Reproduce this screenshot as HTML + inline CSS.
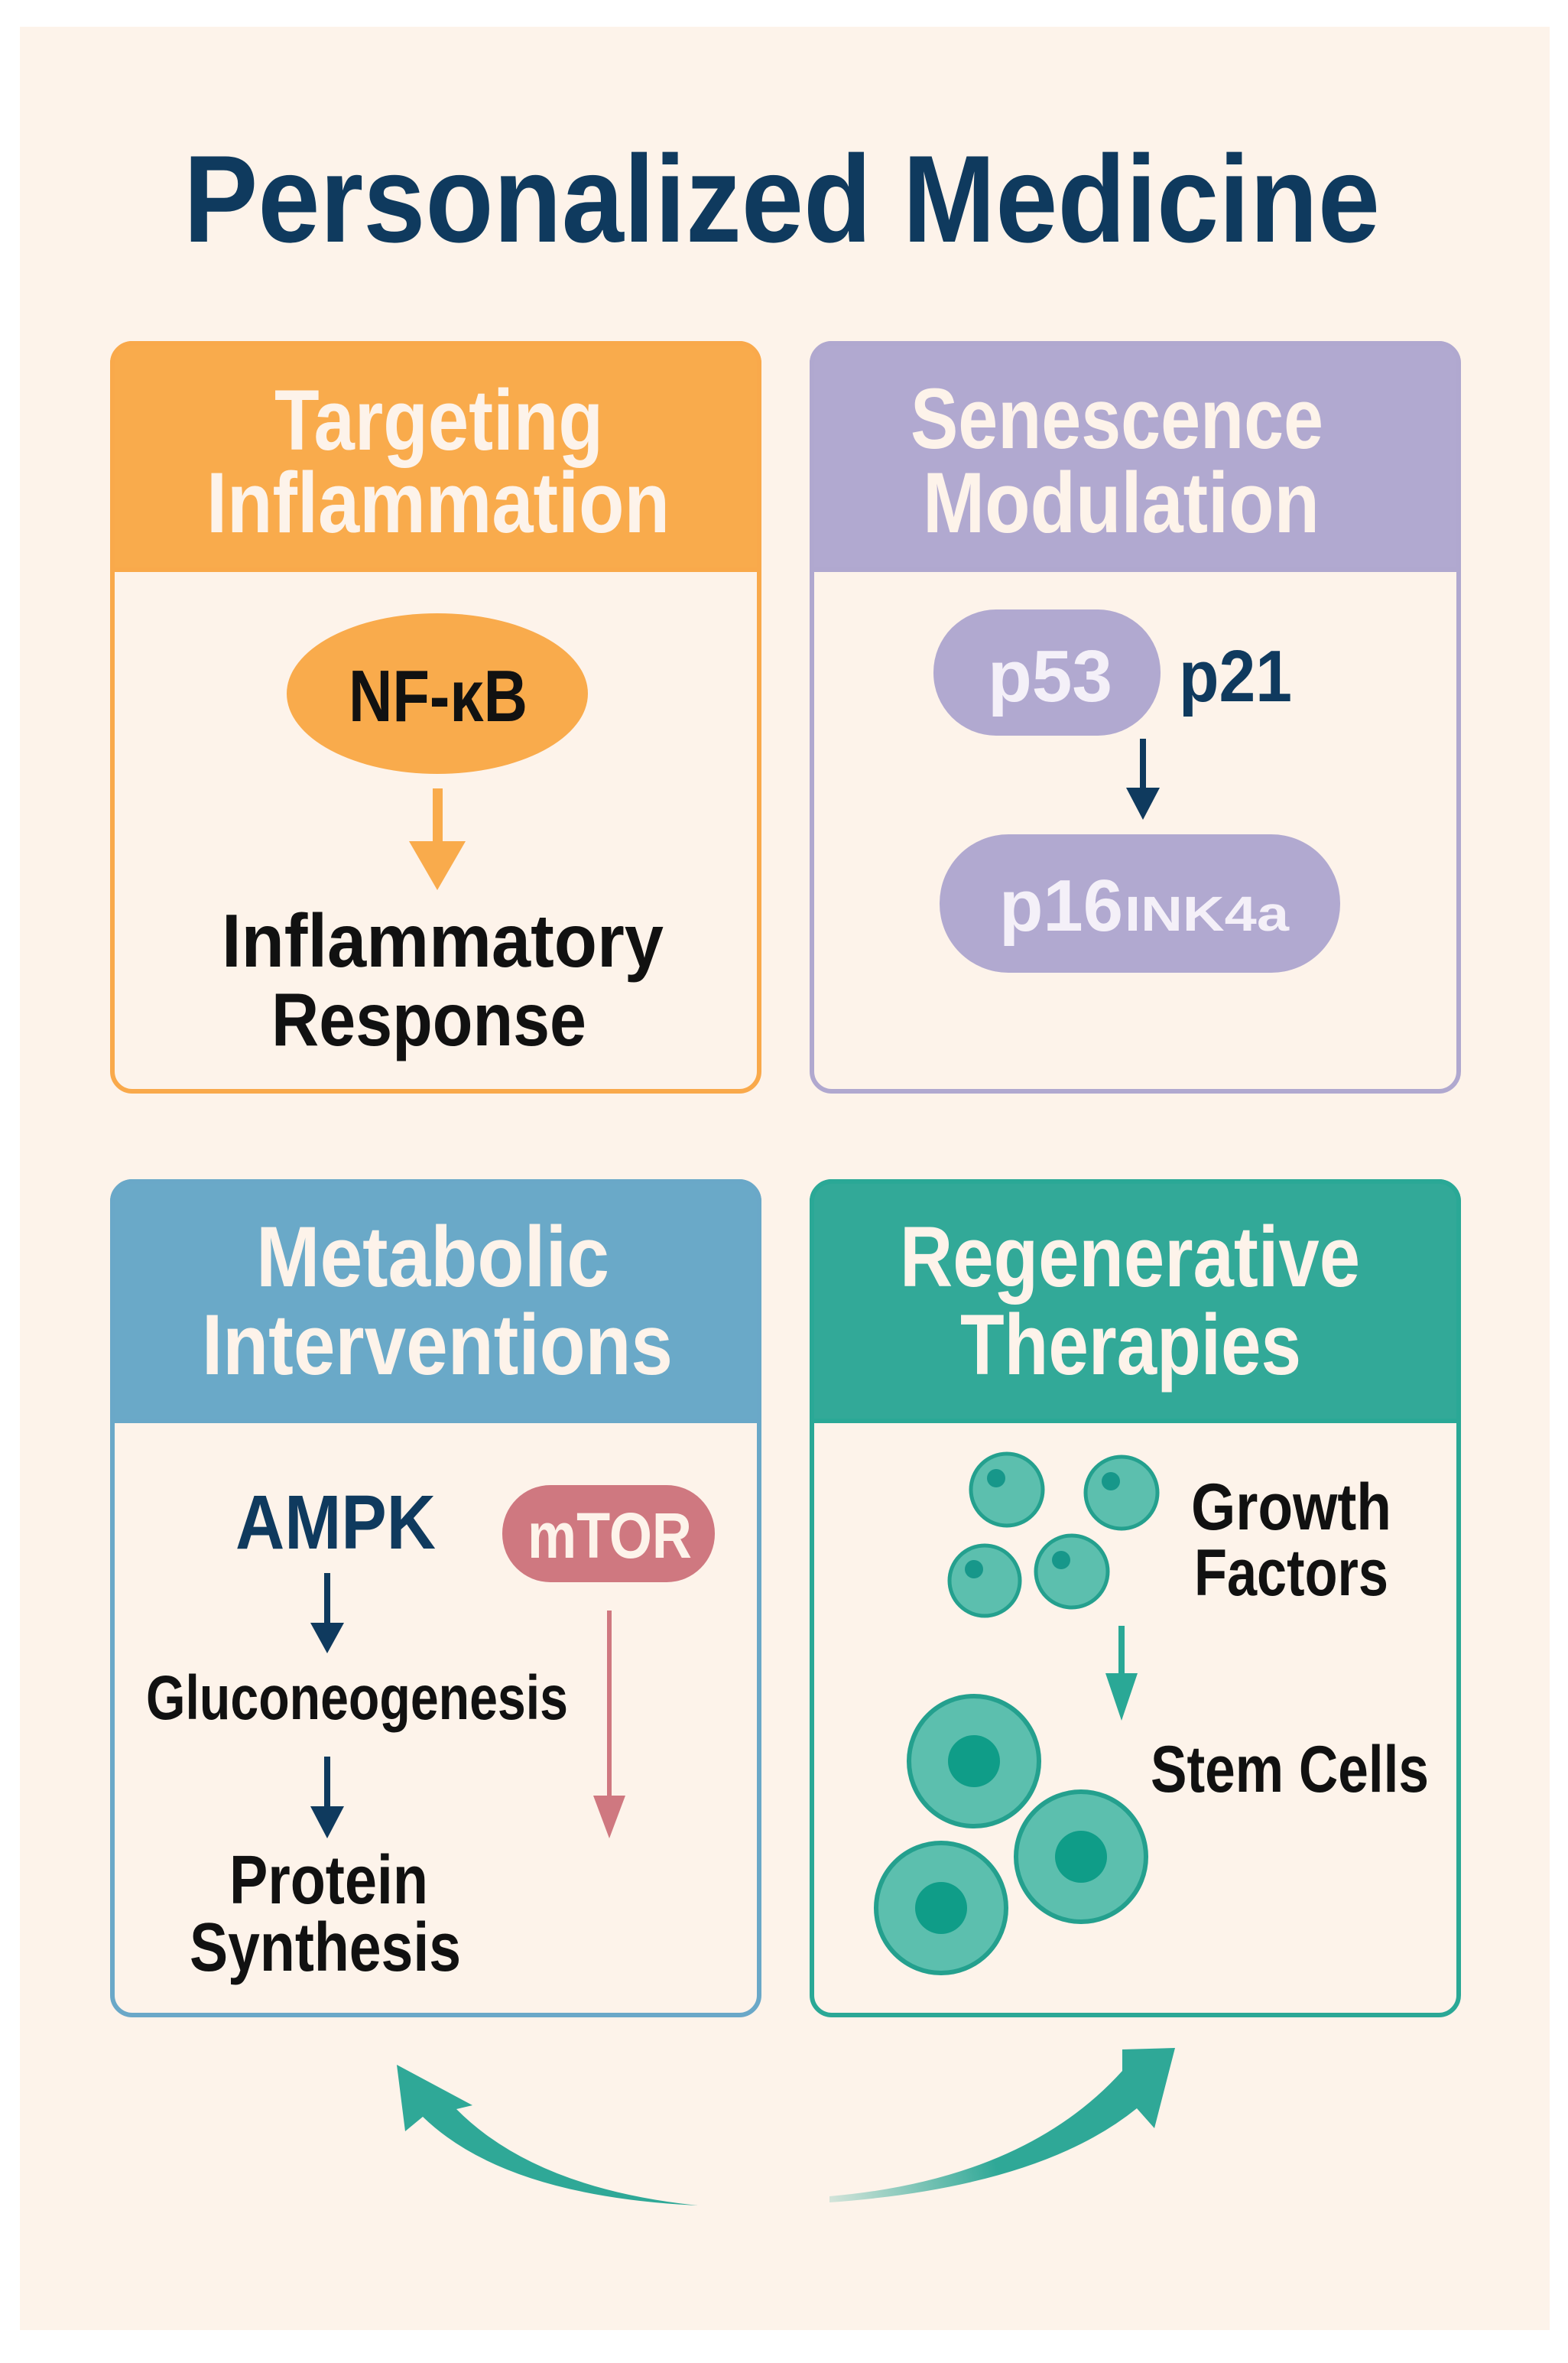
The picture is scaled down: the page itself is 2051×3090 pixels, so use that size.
<!DOCTYPE html>
<html><head><meta charset="utf-8"><style>
html,body{margin:0;padding:0;background:#fff;}
svg{display:block;}
text{font-family:"Liberation Sans",sans-serif;font-weight:bold;}
</style></head><body>
<svg width="2051" height="3090" viewBox="0 0 2051 3090" xmlns="http://www.w3.org/2000/svg">
<defs>
<linearGradient id="fade" x1="1085" y1="2880" x2="1300" y2="2820" gradientUnits="userSpaceOnUse">
<stop offset="0" stop-color="#2fa897" stop-opacity="0.2"/><stop offset="1" stop-color="#2fa897"/>
</linearGradient>
</defs>
<rect x="26" y="35" width="2001" height="3012" fill="#fdf3ea"/>
<text x="240" y="316" font-size="162" fill="#0f3a5e" textLength="1565" lengthAdjust="spacingAndGlyphs">Personalized Medicine</text>

<!-- Box 1 -->
<rect x="147" y="449" width="846" height="978" rx="26" fill="#fdf3ea" stroke="#f9a94b" stroke-width="6"/>
<path d="M147 745 V475 a26 26 0 0 1 26 -26 H967 a26 26 0 0 1 26 26 V745 Z" fill="#f9ab4c" stroke="#f9a94b" stroke-width="6"/>
<text x="359" y="588" font-size="112" fill="#fdf3ea" textLength="430" lengthAdjust="spacingAndGlyphs">Targeting</text>
<text x="270" y="696" font-size="112" fill="#fdf3ea" textLength="606" lengthAdjust="spacingAndGlyphs">Inflammation</text>
<ellipse cx="572" cy="907" rx="197" ry="105" fill="#f9ab4c"/>
<text x="456" y="943" font-size="96" fill="#111" textLength="234" lengthAdjust="spacingAndGlyphs">NF-κB</text>
<rect x="566" y="1031" width="13" height="75" fill="#f9ab4c"/>
<polygon points="535,1100 609,1100 572,1164" fill="#f9ab4c"/>
<text x="290" y="1264" font-size="98" fill="#111" textLength="578" lengthAdjust="spacingAndGlyphs">Inflammatory</text>
<text x="355" y="1367" font-size="98" fill="#111" textLength="412" lengthAdjust="spacingAndGlyphs">Response</text>

<!-- Box 2 -->
<rect x="1062" y="449" width="846" height="978" rx="26" fill="#fdf3ea" stroke="#b0a8cf" stroke-width="6"/>
<path d="M1062 745 V475 a26 26 0 0 1 26 -26 H1882 a26 26 0 0 1 26 26 V745 Z" fill="#b1a9d0" stroke="#b0a8cf" stroke-width="6"/>
<text x="1191" y="586" font-size="112" fill="#fdf3ea" textLength="540" lengthAdjust="spacingAndGlyphs">Senescence</text>
<text x="1207" y="696" font-size="112" fill="#fdf3ea" textLength="519" lengthAdjust="spacingAndGlyphs">Modulation</text>
<rect x="1221" y="797" width="297" height="165" rx="82" fill="#b1a9d0"/>
<text x="1292" y="917" font-size="96" fill="#f4f0f8" textLength="163" lengthAdjust="spacingAndGlyphs">p53</text>
<text x="1542" y="917" font-size="96" fill="#0f3a5e" textLength="148" lengthAdjust="spacingAndGlyphs">p21</text>
<rect x="1491" y="966" width="8" height="70" fill="#0f3a5e"/>
<polygon points="1473,1030 1517,1030 1495,1072" fill="#0f3a5e"/>
<rect x="1229" y="1091" width="524" height="181" rx="90" fill="#b1a9d0"/>
<text x="1307" y="1217" font-size="96" fill="#f4f0f8" textLength="162" lengthAdjust="spacingAndGlyphs">p16</text>
<text x="1471" y="1217" font-size="64" fill="#f4f0f8" textLength="215" lengthAdjust="spacingAndGlyphs">INK4a</text>

<!-- Box 3 -->
<rect x="147" y="1545" width="846" height="1090" rx="26" fill="#fdf3ea" stroke="#6aa8c8" stroke-width="6"/>
<path d="M147 1858 V1571 a26 26 0 0 1 26 -26 H967 a26 26 0 0 1 26 26 V1858 Z" fill="#6aa9c8" stroke="#6aa8c8" stroke-width="6"/>
<text x="335" y="1682" font-size="112" fill="#fdf3ea" textLength="462" lengthAdjust="spacingAndGlyphs">Metabolic</text>
<text x="264" y="1797" font-size="112" fill="#fdf3ea" textLength="616" lengthAdjust="spacingAndGlyphs">Interventions</text>
<text x="308" y="2025" font-size="100" fill="#0f3a5e" textLength="262" lengthAdjust="spacingAndGlyphs">AMPK</text>
<rect x="657" y="1942" width="278" height="127" rx="63" fill="#cf7880"/>
<text x="690" y="2037" font-size="84" fill="#fdf3ea" textLength="215" lengthAdjust="spacingAndGlyphs">mTOR</text>
<rect x="424" y="2057" width="8" height="72" fill="#0f3a5e"/>
<polygon points="406,2122 450,2122 428,2162" fill="#0f3a5e"/>
<text x="191" y="2248" font-size="82" fill="#111" textLength="552" lengthAdjust="spacingAndGlyphs">Gluconeogenesis</text>
<rect x="424" y="2297" width="8" height="72" fill="#0f3a5e"/>
<polygon points="406,2362 450,2362 428,2404" fill="#0f3a5e"/>
<text x="300" y="2489" font-size="90" fill="#111" textLength="260" lengthAdjust="spacingAndGlyphs">Protein</text>
<text x="248" y="2577" font-size="90" fill="#111" textLength="355" lengthAdjust="spacingAndGlyphs">Synthesis</text>
<rect x="794" y="2106" width="6" height="250" fill="#cf7880"/>
<polygon points="776,2348 818,2348 797,2404" fill="#cf7880"/>

<!-- Box 4 -->
<rect x="1062" y="1545" width="846" height="1090" rx="26" fill="#fdf3ea" stroke="#2aa896" stroke-width="6"/>
<path d="M1062 1858 V1571 a26 26 0 0 1 26 -26 H1882 a26 26 0 0 1 26 26 V1858 Z" fill="#32a998" stroke="#2aa896" stroke-width="6"/>
<text x="1177" y="1682" font-size="112" fill="#fdf3ea" textLength="602" lengthAdjust="spacingAndGlyphs">Regenerative</text>
<text x="1256" y="1797" font-size="112" fill="#fdf3ea" textLength="446" lengthAdjust="spacingAndGlyphs">Therapies</text>
<g fill="#5cbfae" stroke="#24a08e" stroke-width="5">
<circle cx="1317" cy="1948" r="47"/><circle cx="1467" cy="1952" r="47"/>
<circle cx="1288" cy="2067" r="46"/><circle cx="1402" cy="2055" r="47"/>
</g>
<g fill="#17978a">
<circle cx="1303" cy="1933" r="12"/><circle cx="1453" cy="1937" r="12"/>
<circle cx="1274" cy="2052" r="12"/><circle cx="1388" cy="2040" r="12"/>
</g>
<text x="1558" y="2000" font-size="86" fill="#111" textLength="262" lengthAdjust="spacingAndGlyphs">Growth</text>
<text x="1562" y="2086" font-size="86" fill="#111" textLength="254" lengthAdjust="spacingAndGlyphs">Factors</text>
<rect x="1463" y="2126" width="8" height="66" fill="#2aa896"/>
<polygon points="1446,2188 1488,2188 1467,2250" fill="#2aa896"/>
<g fill="#5cbfae" stroke="#24a08e" stroke-width="6">
<circle cx="1274" cy="2303" r="85"/><circle cx="1414" cy="2428" r="85"/><circle cx="1231" cy="2495" r="85"/>
</g>
<g fill="#0f9d88">
<circle cx="1274" cy="2303" r="34"/><circle cx="1414" cy="2428" r="34"/><circle cx="1231" cy="2495" r="34"/>
</g>
<text x="1505" y="2343" font-size="86" fill="#111" textLength="364" lengthAdjust="spacingAndGlyphs">Stem Cells</text>

<!-- bottom curved arrows -->
<path d="M519 2700 L618 2753 L597 2758 Q700 2862 913 2884 Q660 2872 553 2768 L530 2787 Z" fill="#2fa897"/>
<path d="M1085 2880 Q1360 2860 1487 2757 L1510 2783 L1537 2678 L1468 2680 L1468 2708 Q1340 2850 1085 2872 Z" fill="url(#fade)"/>
</svg>
</body></html>
